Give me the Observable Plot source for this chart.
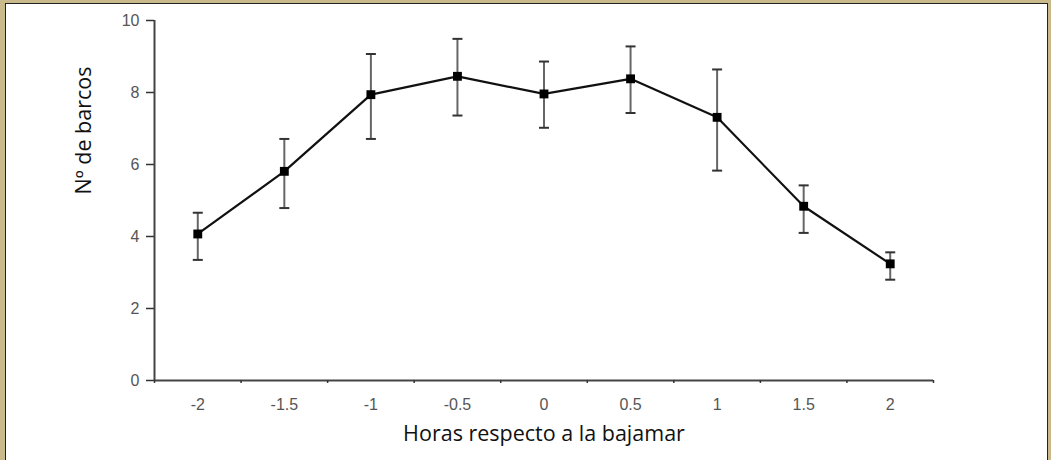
<!DOCTYPE html>
<html>
<head>
<meta charset="utf-8">
<script src="https://cdn.jsdelivr.net/npm/d3@7"></script>
<script src="https://cdn.jsdelivr.net/npm/@observablehq/plot@0.6"></script>
<style>
  html, body { margin: 0; padding: 0; background: #c9b98b; }
  #frame { position: absolute; left: 5px; top: 3px; width: 1041px; height: 470px;
           background: #fff; border-left: 1.5px solid #222; border-top: 1.5px solid #222; border-right: 1.5px solid #222; }
  #chart { position: absolute; left: 0; top: 0; }
</style>
</head>
<body>
<div id="frame"></div>
<div id="chart"></div>
<script>
const hours = [-2, -1.5, -1, -0.5, 0, 0.5, 1, 1.5, 2];
const mean  = [4.07, 5.81, 7.94, 8.45, 7.96, 8.38, 7.31, 4.84, 3.24];
const upper = [4.66, 6.71, 9.07, 9.49, 8.86, 9.28, 8.64, 5.42, 3.56];
const lower = [3.35, 4.79, 6.71, 7.36, 7.02, 7.43, 5.83, 4.10, 2.80];
const yTicks = [0, 2, 4, 6, 8, 10];
const xTickLabels = ["-2", "-1.5", "-1", "-0.5", "0", "0.5", "1", "1.5", "2"];
const xBounds = [-2.25, -1.75, -1.25, -0.75, -0.25, 0.25, 0.75, 1.25, 1.75, 2.25];
const xTitle = "Horas respecto a la bajamar";
const yTitle = "Nº de barcos";

const data = hours.map((h, i) => ({h, m: mean[i], lo: lower[i], hi: upper[i]}));
const capSymbol = { draw(ctx, size) { ctx.moveTo(-5, 0); ctx.lineTo(5, 0); } };

const plot = Plot.plot({
  width: 1051,
  height: 460,
  marginLeft: 154,
  marginRight: 118,
  marginTop: 20,
  marginBottom: 80,
  style: { background: "transparent", overflow: "visible" },
  x: { type: "linear", domain: [-2.25, 2.25] },
  y: { domain: [0, 10] },
  marks: [
    // axis lines
    Plot.ruleX([-2.25], { y1: 0, y2: 10, stroke: "#444", strokeWidth: 2 }),
    Plot.ruleY([0], { x1: -2.25, x2: 2.25, stroke: "#444", strokeWidth: 2 }),
    Plot.axisY(yTicks, { tickSize: 8, tickPadding: 7, stroke: "#333", strokeWidth: 1.5,
      fill: "#555", fontSize: 16, fontFamily: "Liberation Sans, Arial, sans-serif", label: null }),
    Plot.axisX(xBounds, { tickSize: 3, tickFormat: () => "", stroke: "#333", strokeWidth: 1.5, label: null }),
    Plot.axisX(hours, { tickSize: 0, tickPadding: 18, tickFormat: (d, i) => xTickLabels[i],
      fill: "#555", fontSize: 16, fontFamily: "Liberation Sans, Arial, sans-serif", label: null }),
    // error bars
    Plot.ruleX(data, { x: "h", y1: "lo", y2: "hi", stroke: "#666", strokeWidth: 2 }),
    Plot.dot(data, { x: "h", y: "hi", symbol: capSymbol, stroke: "#333", strokeWidth: 2, r: 5 }),
    Plot.dot(data, { x: "h", y: "lo", symbol: capSymbol, stroke: "#333", strokeWidth: 2, r: 5 }),
    // line + markers
    Plot.line(data, { x: "h", y: "m", stroke: "#111", strokeWidth: 2.2 }),
    Plot.dot(data, { x: "h", y: "m", symbol: "square", fill: "#000", r: 5 }),
    // titles
    Plot.text([xTitle], { text: d => d, frameAnchor: "bottom", dy: 60, fontSize: 21.5,
      fontFamily: "Open Sans, sans-serif", fill: "#111" }),
    Plot.text([yTitle], { text: d => d, frameAnchor: "left", dx: -70, dy: -6, rotate: -90, fontSize: 21.5,
      fontFamily: "Open Sans, sans-serif", fill: "#111" })
  ]
});
document.getElementById("chart").appendChild(plot);
</script>
</body>
</html>
